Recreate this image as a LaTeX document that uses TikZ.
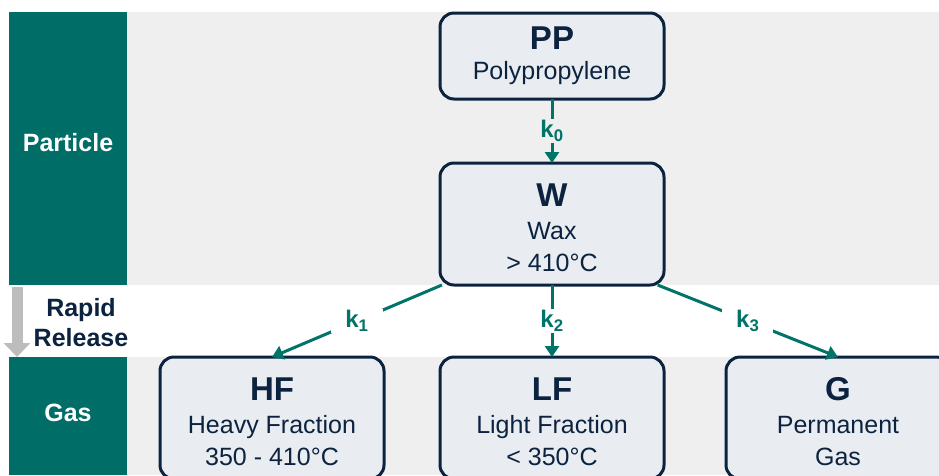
\documentclass[tikz,border=0pt]{standalone}
\usepackage{fontspec}
\setmainfont{Liberation Sans}
\usetikzlibrary{arrows.meta,positioning,calc}

\definecolor{bandteal}{HTML}{006D66}
\definecolor{bandgray}{HTML}{EFEFEF}
\definecolor{boxfill}{HTML}{E9EDF1}
\definecolor{inknavy}{HTML}{0C2340}
\definecolor{rategreen}{HTML}{007468}
\definecolor{arrowgray}{HTML}{BDBDBD}

\newcommand{\spname}[1]{{\bfseries\fontsize{33}{33}\selectfont\rule{0pt}{31pt}#1}\\[1pt]}

\begin{document}
\begin{tikzpicture}[x=1pt,y=-1pt]
\tikzstyle{species}=[draw=inknavy,line width=3pt,fill=boxfill,rounded corners=14pt,
  minimum width=224pt,outer sep=0pt,text=inknavy,align=center,
  font=\fontsize{25}{32}\selectfont]
\tikzstyle{phase}=[text=white,font=\bfseries\fontsize{25}{28}\selectfont]
\tikzstyle{rate}=[draw=rategreen,line width=3pt,-{Triangle[width=14pt,length=11pt]}]
\tikzstyle{klabel}=[text=rategreen,inner sep=1pt,font=\bfseries\fontsize{24}{26}\selectfont]

\useasboundingbox (0,0) rectangle (939,475);
\clip (0,0) rectangle (939,475);

% bands
\fill[bandgray] (127,12) rectangle (939,285);
\fill[bandgray] (127,357) rectangle (939,475);
\fill[bandteal] (9,12) rectangle (127,285);
\fill[bandteal] (9,357) rectangle (127,475);

\node[phase] (particle) at (68,143) {Particle};
\node[phase] (gas) at (68,413) {Gas};
\node[text=inknavy,align=center,font=\bfseries\fontsize{25}{30}\selectfont] (release) at (81,323) {Rapid\\Release};

\coordinate (relA) at (17,287);
\coordinate (relB) at (17,357);
\draw[arrowgray,line width=11pt,-{Triangle[width=26pt,length=14pt]}] (relA) -- (relB);

% species
\node[species,minimum height=86pt] (pp) at (552,56) {{\bfseries\fontsize{33}{33}\selectfont PP}\\[-2pt]Polypropylene};
\node[species,minimum height=122pt,below=64pt of pp] (w) {\spname{W}Wax\\> 410°C};
\node[species,minimum height=122pt,below=72pt of w] (lf) {\spname{LF}Light Fraction\\< 350°C};
\node[species,minimum height=122pt,left=56pt of lf] (hf) {\spname{HF}Heavy Fraction\\350 - 410°C};
\node[species,minimum height=122pt,right=62pt of lf] (g) {\spname{G}Permanent\\Gas};

% rates
\draw[rate] (pp) -- node[klabel,fill=bandgray] {k\textsubscript{0}} (w);
\draw[rate] (w.209) -- node[klabel,fill=white,inner xsep=14pt] {k\textsubscript{1}} (hf.north);
\draw[rate] (w) -- node[klabel,fill=white] {k\textsubscript{2}} (lf);
\draw[rate] (w.-30) -- node[klabel,fill=white,inner xsep=14pt] {k\textsubscript{3}} (g.north);
\end{tikzpicture}
\end{document}
